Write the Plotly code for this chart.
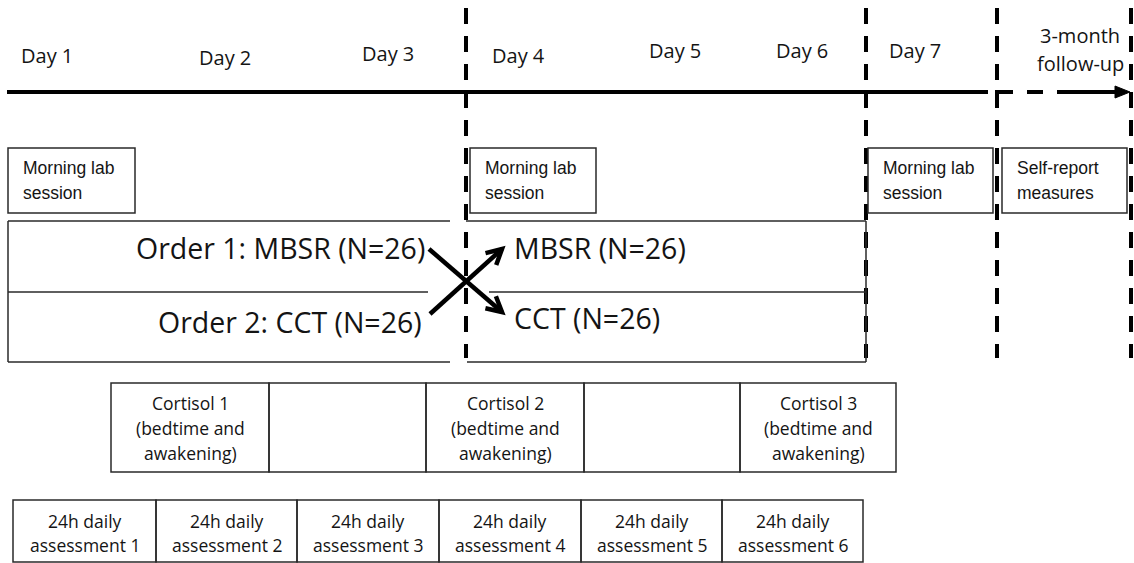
import math
import plotly.graph_objects as go

# ---------------- data (labels) ----------------
day_labels = ["Day 1", "Day 2", "Day 3", "Day 4", "Day 5", "Day 6", "Day 7", "3-month<br>follow-up"]
session_labels = ["Morning lab<br>session", "Morning lab<br>session", "Morning lab<br>session", "Self-report<br>measures"]
order_left_labels = ["Order 1: MBSR (N=26)", "Order 2: CCT (N=26)"]
order_right_labels = ["MBSR (N=26)", "CCT (N=26)"]
cortisol_labels = ["Cortisol 1<br>(bedtime and<br>awakening)", "",
                   "Cortisol 2<br>(bedtime and<br>awakening)", "",
                   "Cortisol 3<br>(bedtime and<br>awakening)"]
daily_labels = ["24h daily<br>assessment 1", "24h daily<br>assessment 2", "24h daily<br>assessment 3",
                "24h daily<br>assessment 4", "24h daily<br>assessment 5", "24h daily<br>assessment 6"]

# ---------------- layout positions (diagram geometry) ----------------
W, H = 1134, 563
day_x = [47, 225, 388, 518, 675, 802, 915, 1080]
day_y = [55, 57, 53, 55, 50, 50, 50, 49]
timeline_y = 92
followup_dashes = [(995, 1013), (1027, 1043), (1057, 1118)]
phase_x = [466, 866, 997, 1131]
session_x0 = [8, 470, 868, 1002]
session_x1 = [135, 596, 993, 1127]
session_y0, session_y1 = 148, 213
cortisol_edges = [111, 269, 426, 584, 740, 896]
cortisol_y0, cortisol_y1 = 383, 472
daily_edges = [13, 156, 297, 439, 581, 722, 863]
daily_y0, daily_y1 = 500, 562

MAIN = "Open Sans"
NARROW = "Liberation Sans Narrow, Arial Narrow, Liberation Sans, Arial, sans-serif"
TXT = "#141414"
BOX = "#2a2a2a"

fig = go.Figure()
shapes = []
annotations = []


def line(x0, y0, x1, y1, width=1.5, color=BOX, dash=None):
    d = dict(type="line", xref="x", yref="y", x0=x0, y0=y0, x1=x1, y1=y1,
             line=dict(color=color, width=width))
    if dash:
        d["line"]["dash"] = dash
    shapes.append(d)


def rect(x0, y0, x1, y1, width=1.5, color=BOX):
    shapes.append(dict(type="rect", xref="x", yref="y", x0=x0, y0=y0, x1=x1, y1=y1,
                       line=dict(color=color, width=width), fillcolor="rgba(0,0,0,0)"))


def text_block(label, x, yc, size, spacing, anchor="center", family=MAIN):
    lines = label.split("<br>") if label else []
    n = len(lines)
    for i, t in enumerate(lines):
        y = yc + (i - (n - 1) / 2) * spacing
        annotations.append(dict(x=x, y=y, xref="x", yref="y", text=t, showarrow=False,
                                xanchor=anchor, yanchor="middle",
                                font=dict(family=family, size=size, color=TXT)))


def arrow(x0, y0, x1, y1, width=4.5, head=17, ang=28):
    line(x0, y0, x1, y1, width=width, color="black")
    a = math.atan2(y0 - y1, x0 - x1)
    pts = []
    for s in (-1, 1):
        b = a + s * math.radians(ang)
        pts.append((x1 + head * math.cos(b), y1 + head * math.sin(b)))
    path = f"M {pts[0][0]:.1f} {pts[0][1]:.1f} L {x1} {y1} L {pts[1][0]:.1f} {pts[1][1]:.1f}"
    shapes.append(dict(type="path", xref="x", yref="y", path=path,
                       line=dict(color="black", width=width)))


# timeline
line(7, timeline_y, 988, timeline_y, width=4, color="black")
for a, b in followup_dashes:
    line(a, timeline_y, b, timeline_y, width=4, color="black")
shapes.append(dict(type="path", xref="x", yref="y",
                   path=f"M 1115 {timeline_y-6} L 1130 {timeline_y} L 1115 {timeline_y+6} Z",
                   fillcolor="black", line=dict(color="black", width=1)))

# day labels
for lab, x, y in zip(day_labels, day_x, day_y):
    text_block(lab, x, y, 20, 28)

# phase dividers
for x in phase_x:
    line(x, 8, x, 358, width=4, color="black", dash="16px,12px")

# session boxes
for lab, x0, x1 in zip(session_labels, session_x0, session_x1):
    rect(x0, session_y0, x1, session_y1)
    text_block(lab, x0 + 13, (session_y0 + session_y1) / 2, 17.5, 25, anchor="left", family=NARROW)

# order boxes (left part)
line(8, 221, 450, 221)
line(8, 292, 428, 292)
line(8, 362, 450, 362)
line(8, 221, 8, 362)
# order boxes (right part)
line(466, 221, 866, 221)
line(489, 292, 866, 292)
line(467, 362, 866, 362)
line(866, 221, 866, 362)

text_block(order_left_labels[0], 427, 248, 28.5, 30, anchor="right")
text_block(order_left_labels[1], 424, 322, 28.5, 30, anchor="right")
text_block(order_right_labels[0], 512, 248, 28.5, 30, anchor="left")
text_block(order_right_labels[1], 512, 318, 28.5, 30, anchor="left")

# crossing arrows
arrow(429, 249, 502, 312)
arrow(430, 314, 502, 249)

# cortisol row
for i, lab in enumerate(cortisol_labels):
    x0, x1 = cortisol_edges[i], cortisol_edges[i + 1]
    rect(x0, cortisol_y0, x1, cortisol_y1)
    text_block(lab, (x0 + x1) / 2, (cortisol_y0 + cortisol_y1) / 2, 17.5, 25)

# daily assessment row
for i, lab in enumerate(daily_labels):
    x0, x1 = daily_edges[i], daily_edges[i + 1]
    rect(x0, daily_y0, x1, daily_y1)
    text_block(lab, (x0 + x1) / 2, (daily_y0 + daily_y1) / 2 + 2, 17.5, 24)

fig.update_layout(
    width=W, height=H,
    margin=dict(l=0, r=0, t=0, b=0),
    paper_bgcolor="white", plot_bgcolor="white",
    xaxis=dict(range=[0, W], visible=False, fixedrange=True),
    yaxis=dict(range=[H, 0], visible=False, fixedrange=True),
    shapes=shapes, annotations=annotations, showlegend=False,
)

fig.write_html("out.html", config={"displayModeBar": False},
               post_script="document.body.style.margin='0';document.body.style.overflow='hidden';")
